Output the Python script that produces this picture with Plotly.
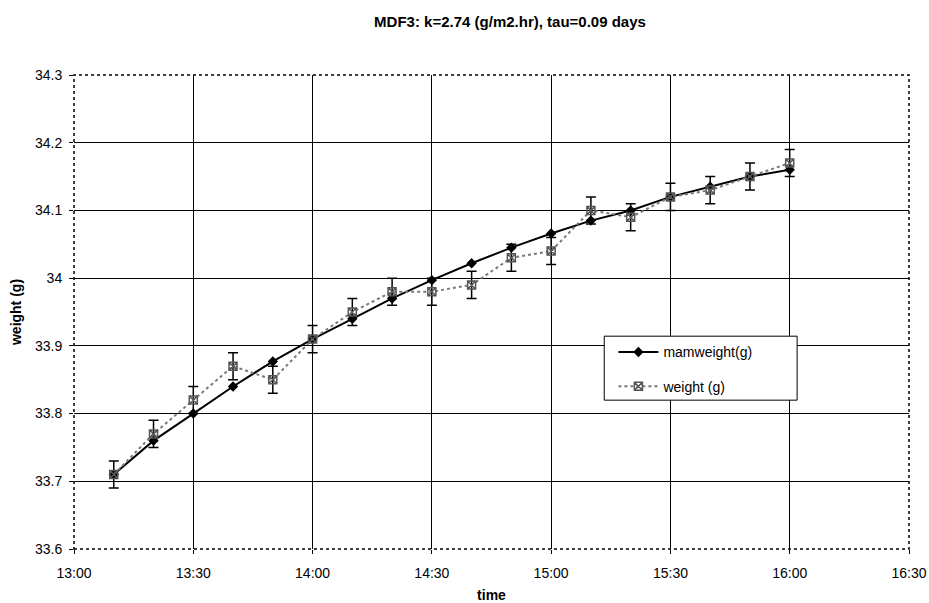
import plotly.graph_objects as go

times = ["13:10", "13:20", "13:30", "13:40", "13:50", "14:00", "14:10", "14:20", "14:30",
         "14:40", "14:50", "15:00", "15:10", "15:20", "15:30", "15:40", "15:50", "16:00"]
mamweight = [33.71, 33.76, 33.80, 33.84, 33.877, 33.91, 33.94, 33.97, 33.997,
             34.022, 34.045, 34.066, 34.085, 34.10, 34.12, 34.135, 34.15, 34.16]
weight = [33.71, 33.77, 33.82, 33.87, 33.85, 33.91, 33.95, 33.98, 33.98,
          33.99, 34.03, 34.04, 34.10, 34.09, 34.12, 34.13, 34.15, 34.17]
weight_err = [0.02] * len(weight)
y_ticks = [33.6, 33.7, 33.8, 33.9, 34.0, 34.1, 34.2, 34.3]
y_ticktext = ["33.6", "33.7", "33.8", "33.9", "34", "34.1", "34.2", "34.3"]

x = ["2000-01-01 " + t for t in times]
font = "Liberation Sans, Arial, sans-serif"

W, H = 929, 603

fig = go.Figure()
fig.add_trace(go.Scatter(
    x=x, y=mamweight, name="mamweight(g)", mode="lines+markers", legendgroup="a",
    line=dict(color="black", width=2),
    marker=dict(symbol="diamond", size=8, color="black"),
))
fig.add_trace(go.Scatter(
    x=x, y=weight, name="weight (g)", mode="lines+markers", legendgroup="b",
    line=dict(color="#7a7a7a", width=2, dash="dot"),
    marker=dict(symbol="square-x-open", size=8, color="#555555", line=dict(width=1.5)),
    error_y=dict(type="data", array=weight_err, visible=True, color="black", thickness=1.5, width=5),
))

# plot frame (dotted) and legend box
fig.add_shape(type="rect", xref="paper", yref="paper", x0=0, x1=1, y0=0, y1=1,
              line=dict(color="black", width=1.5, dash="dot"), layer="above")
fig.add_shape(type="rect", xref="paper", yref="paper", x0=0.635, x1=0.866, y0=0.314, y1=0.449,
              line=dict(color="black", width=1), fillcolor="white", layer="above")

fig.update_layout(
    width=W, height=H,
    paper_bgcolor="white", plot_bgcolor="white",
    margin=dict(l=74, r=20, t=75, b=54),
    title=dict(text="<b>MDF3: k=2.74 (g/m2.hr), tau=0.09 days</b>", x=510 / W, xanchor="center",
               y=1 - 22 / H, yanchor="middle", font=dict(family=font, size=15, color="black")),
    font=dict(family=font, size=14, color="black"),
    showlegend=True,
    legend=dict(x=0.646, y=0.4485, xanchor="left", yanchor="top", bgcolor="rgba(0,0,0,0)",
                borderwidth=0, font=dict(family=font, size=14, color="black"),
                itemwidth=40, tracegroupgap=13),
)
fig.update_xaxes(
    type="date", range=["2000-01-01 13:00", "2000-01-01 16:30"],
    dtick=30 * 60 * 1000, tick0="2000-01-01 13:00", tickformat="%H:%M",
    showgrid=True, gridcolor="black", gridwidth=1, showline=False,
    ticks="outside", ticklen=4, tickcolor="black", ticklabelstandoff=7,
    title=dict(text="<b>time</b>", font=dict(family=font, size=14), standoff=11),
    zeroline=False, automargin=False,
)
fig.update_yaxes(
    range=[33.6, 34.3], tickvals=y_ticks, ticktext=y_ticktext,
    showgrid=True, gridcolor="black", gridwidth=1, showline=False,
    ticks="outside", ticklen=4, tickcolor="black", ticklabelstandoff=4,
    title=dict(text="<b>weight (g)</b>", font=dict(family=font, size=14), standoff=10),
    zeroline=False, automargin=False,
)
fig.write_html(
    "out.html",
    config={"displayModeBar": False},
    post_script="document.body.style.margin='0';document.body.style.overflow='hidden';",
)
